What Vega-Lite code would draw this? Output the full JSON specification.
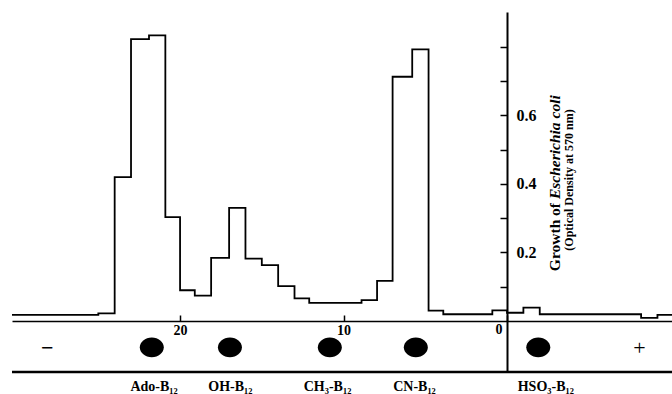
{
  "$schema": "https://vega.github.io/schema/vega-lite/v6.json",
  "width": 660,
  "height": 360,
  "autosize": {"type": "none"},
  "padding": {"left": 12, "top": 12, "right": 0, "bottom": 22},
  "background": "white",
  "config": {"view": {"stroke": null}},
  "layer": [
    {
      "data": {"values": [
        {"x": 30.28, "y": 0.0175},
        {"x": 25, "y": 0.022},
        {"x": 24, "y": 0.42},
        {"x": 23, "y": 0.823},
        {"x": 21.9, "y": 0.834},
        {"x": 20.9, "y": 0.303},
        {"x": 20, "y": 0.0896},
        {"x": 19.1, "y": 0.074},
        {"x": 18.1, "y": 0.184},
        {"x": 17, "y": 0.33},
        {"x": 16, "y": 0.182},
        {"x": 15, "y": 0.163},
        {"x": 14, "y": 0.102},
        {"x": 13, "y": 0.066},
        {"x": 12.1, "y": 0.053},
        {"x": 8.9, "y": 0.061},
        {"x": 7.95, "y": 0.117},
        {"x": 7, "y": 0.713},
        {"x": 5.8, "y": 0.793},
        {"x": 4.8, "y": 0.03},
        {"x": 3.9, "y": 0.0196},
        {"x": 0.9, "y": 0.031},
        {"x": 0, "y": 0.024},
        {"x": -1, "y": 0.039},
        {"x": -2, "y": 0.0196},
        {"x": -8.2, "y": 0.0088},
        {"x": -9.2, "y": 0.0175},
        {"x": -10.09, "y": 0.0175}
      ]},
      "mark": {"type": "line", "interpolate": "step-after", "color": "black", "strokeWidth": 1.8},
      "encoding": {
        "x": {
          "field": "x", "type": "quantitative",
          "scale": {"domain": [-10.09, 30.28], "reverse": true, "nice": false, "zero": false},
          "axis": {
            "orient": "bottom", "offset": -51, "values": [20, 10, 0], "title": null, "grid": false,
            "domain": true, "ticks": true, "labels": true,
            "domainColor": "black", "domainWidth": 1.6,
            "tickColor": "black", "tickSize": -6, "tickWidth": 1.5,
            "labelExpr": "datum.value === 0 ? '' : datum.label",
            "labelFont": "Liberation Serif", "labelFontWeight": "bold", "labelFontSize": 14, "labelColor": "black",
            "labelPadding": 8.5, "labelFlush": false, "labelOverlap": false
          }
        },
        "y": {
          "field": "y", "type": "quantitative",
          "scale": {"domain": [-0.149, 0.902], "nice": false, "zero": false},
          "axis": {
            "orient": "right", "offset": -165, "values": [0.1, 0.2, 0.3, 0.4, 0.5, 0.6, 0.7, 0.8], "title": null, "grid": false,
            "domain": true, "ticks": true, "labels": true,
            "domainColor": "black", "domainWidth": 2,
            "tickColor": "black", "tickSize": -7, "tickWidth": 1.5,
            "labelExpr": "(datum.value == 0.2 || datum.value == 0.4 || datum.value == 0.6) ? format(datum.value, '.1f') : ''",
            "labelFont": "Liberation Serif", "labelFontWeight": "bold", "labelFontSize": 16, "labelColor": "black",
            "labelPadding": 16, "labelFlush": false, "labelOverlap": false
          }
        },
        "order": {"field": "x", "sort": "descending"}
      }
    },
    {
      "data": {"values": [{"y": -0.149}]},
      "mark": {"type": "rule", "color": "black", "strokeWidth": 2.5},
      "encoding": {"y": {"field": "y", "type": "quantitative"}}
    },
    {
      "data": {"values": [{"x": 0.49, "y": -0.0254, "t": "0"}]},
      "mark": {"type": "text", "font": "Liberation Serif", "fontWeight": "bold", "fontSize": 14, "color": "black", "align": "center", "baseline": "middle"},
      "encoding": {
        "x": {"field": "x", "type": "quantitative"},
        "y": {"field": "y", "type": "quantitative"},
        "text": {"field": "t"}
      }
    },
    {
      "data": {"values": [
        {"x": 21.73, "y": -0.077, "compound": "Ado-B12"},
        {"x": 16.95, "y": -0.077, "compound": "OH-B12"},
        {"x": 10.84, "y": -0.077, "compound": "CH3-B12"},
        {"x": 5.58, "y": -0.077, "compound": "CN-B12"},
        {"x": -1.91, "y": -0.077, "compound": "HSO3-B12"}
      ]},
      "mark": {"type": "point", "shape": "M-1,0A1,0.83 0 1,0 1,0A1,0.83 0 1,0 -1,0Z", "filled": true, "color": "black", "opacity": 1, "size": 576, "strokeWidth": 0},
      "encoding": {
        "x": {"field": "x", "type": "quantitative"},
        "y": {"field": "y", "type": "quantitative"}
      }
    },
    {
      "data": {"values": [
        {"x": 21.59, "y": -0.1927, "label": "Ado-B₁₂"},
        {"x": 16.92, "y": -0.1927, "label": "OH-B₁₂"},
        {"x": 10.98, "y": -0.1927, "label": "CH₃-B₁₂"},
        {"x": 5.66, "y": -0.1927, "label": "CN-B₁₂"},
        {"x": -2.37, "y": -0.1927, "label": "HSO₃-B₁₂"}
      ]},
      "mark": {"type": "text", "font": "Liberation Serif", "fontWeight": "bold", "fontSize": 14, "color": "black", "align": "center", "baseline": "middle"},
      "encoding": {
        "x": {"field": "x", "type": "quantitative"},
        "y": {"field": "y", "type": "quantitative"},
        "text": {"field": "label"}
      }
    },
    {
      "data": {"values": [{"x": 28.13, "y": -0.079, "sign": "−"}]},
      "mark": {"type": "text", "font": "Liberation Serif", "fontWeight": "bold", "fontSize": 22, "color": "black", "align": "center", "baseline": "middle"},
      "encoding": {
        "x": {"field": "x", "type": "quantitative"},
        "y": {"field": "y", "type": "quantitative"},
        "text": {"field": "sign"}
      }
    },
    {
      "data": {"values": [{"x": -8.1, "y": -0.079, "sign": "+"}]},
      "mark": {"type": "text", "font": "Liberation Serif", "fontWeight": "normal", "fontSize": 22, "color": "black", "align": "center", "baseline": "middle"},
      "encoding": {
        "x": {"field": "x", "type": "quantitative"},
        "y": {"field": "y", "type": "quantitative"},
        "text": {"field": "sign"}
      }
    },
    {
      "data": {"values": [{"x": -2.936, "y": 0.3445, "t": "Growth of"}]},
      "mark": {"type": "text", "font": "Liberation Serif", "fontWeight": "bold", "fontSize": 15.5, "color": "black", "align": "right", "baseline": "middle", "angle": 270},
      "encoding": {
        "x": {"field": "x", "type": "quantitative"},
        "y": {"field": "y", "type": "quantitative"},
        "text": {"field": "t"}
      }
    },
    {
      "data": {"values": [{"x": -2.936, "y": 0.356, "t": "Escherichia coli"}]},
      "mark": {"type": "text", "font": "Liberation Serif", "fontWeight": "bold", "fontStyle": "italic", "fontSize": 15.5, "color": "black", "align": "left", "baseline": "middle", "angle": 270},
      "encoding": {
        "x": {"field": "x", "type": "quantitative"},
        "y": {"field": "y", "type": "quantitative"},
        "text": {"field": "t"}
      }
    },
    {
      "data": {"values": [{"x": -3.79, "y": 0.4116, "t": "(Optical Density at 570 nm)"}]},
      "mark": {"type": "text", "font": "Liberation Serif", "fontWeight": "bold", "fontSize": 12, "color": "black", "align": "center", "baseline": "middle", "angle": 270},
      "encoding": {
        "x": {"field": "x", "type": "quantitative"},
        "y": {"field": "y", "type": "quantitative"},
        "text": {"field": "t"}
      }
    }
  ]
}
